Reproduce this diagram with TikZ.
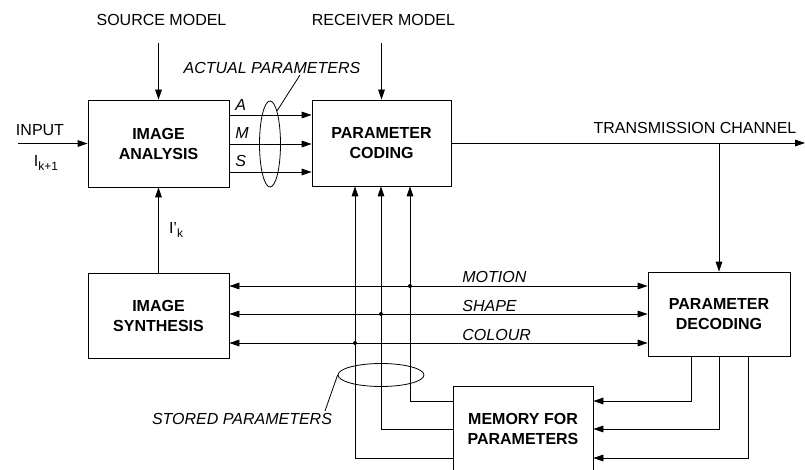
\documentclass[tikz,border=0pt]{standalone}
\usepackage{fontspec}
\setmainfont{Liberation Sans}
\usetikzlibrary{arrows.meta,shapes.geometric}
\begin{document}
\begin{tikzpicture}[x=0.75pt,y=-0.75pt,
  line width=0.6pt,
  box/.style={draw, align=center, inner sep=0pt, font=\fontsize{12}{15}\selectfont\bfseries},
  lbl/.style={inner sep=0pt, font=\fontsize{12}{14}\selectfont},
  ilbl/.style={inner sep=0pt, font=\fontsize{12}{14}\selectfont\itshape},
  arr/.style={-{Triangle[length=7.5pt,width=5pt]}},
  darr/.style={{Triangle[length=7.5pt,width=5pt]}-{Triangle[length=7.5pt,width=5pt]}},
  dotmark/.style={circle, fill, inner sep=0pt, minimum size=3pt}]
\useasboundingbox (0,0) rectangle (805,470);

% boxes
\node[box, minimum width=105.75pt, minimum height=65.25pt] (ana) at (158.5,143.5) {IMAGE\\ANALYSIS};
\node[box, minimum width=104.25pt, minimum height=64.5pt] (cod) at (381.5,143) {PARAMETER\\CODING};
\node[box, minimum width=105.75pt, minimum height=63.75pt] (syn) at (158.5,315.5) {IMAGE\\SYNTHESIS};
\node[box, minimum width=106.5pt, minimum height=63pt] (dec) at (719,314) {PARAMETER\\DECODING};
\node[box, minimum width=105pt, minimum height=64.5pt] (mem) at (523,429) {MEMORY FOR\\PARAMETERS};

% labels
\node[lbl] (src) at (161.5,20) {SOURCE MODEL};
\node[lbl] (rcv) at (383.5,20) {RECEIVER MODEL};
\node[lbl] (inp) at (40,130) {INPUT};
\node[lbl] (ik1) at (46,163) {I\raisebox{-0.45ex}{\fontsize{9}{9}\selectfont k+1}};
\node[lbl] (ikp) at (176,230) {I'\raisebox{-0.45ex}{\fontsize{9}{9}\selectfont k}};
\node[lbl] (trc) at (695,128) {TRANSMISSION CHANNEL};
\node[ilbl] (act) at (272,68) {ACTUAL PARAMETERS};
\node[ilbl, anchor=west] (la) at (235,105) {A};
\node[ilbl, anchor=west] (lm) at (235,133) {M};
\node[ilbl, anchor=west] (ls) at (235,161) {S};
\node[ilbl, anchor=west] (lmo) at (462,277) {MOTION};
\node[ilbl, anchor=west] (lsh) at (462,306) {SHAPE};
\node[ilbl, anchor=west] (lco) at (462,335) {COLOUR};
\node[ilbl] (sto) at (242,419) {STORED PARAMETERS};

% ellipses
\node[ellipse, draw, minimum width=15.75pt, minimum height=64.5pt, inner sep=0pt] (ea) at (270,144) {};
\node[ellipse, draw, minimum width=64.5pt, minimum height=17.25pt, inner sep=0pt] (es) at (381,375) {};
\coordinate (actp) at (300,75);
\draw (ea.78) -- (actp);
\coordinate (stop) at (325,411);
\draw (es.west) -- (stop);

% top arrows
\coordinate (srcS) at (158.5,43);
\draw[arr] (srcS) -- (ana.north);
\coordinate (rcvS) at (381.5,43);
\draw[arr] (rcvS) -- (cod.north);
\coordinate (inS) at (18,143.5);
\draw[arr] (inS) -- (ana.west);
\foreach \yy in {115,144,172} \draw[arr] (ana.east |- 0,\yy) -- (cod.west |- 0,\yy);
\coordinate (txE) at (805,143);
\draw[arr] (cod.east) -- (txE);
\coordinate (tap) at (719,143);
\draw[arr] (tap) -- (dec.north);
\draw[arr] (syn.north) -- (ana.south);

% decoded parameters
\foreach \yy in {286,314,343} \draw[darr] (syn.east |- 0,\yy) -- (dec.west |- 0,\yy);

% memory to coding
\draw[arr] (mem.west |- 0,401) -| (410,0 |- cod.south);
\draw[arr] (mem.west |- 0,429) -| (381,0 |- cod.south);
\draw[arr] (mem.west |- 0,458) -| (355,0 |- cod.south);

% decoding to memory
\draw[arr] (691,0 |- dec.south) |- (mem.east |- 0,401);
\draw[arr] (719,0 |- dec.south) |- (mem.east |- 0,429);
\draw[arr] (748,0 |- dec.south) |- (mem.east |- 0,458);

% junction dots
\node[dotmark] (d1) at (410,286) {};
\node[dotmark] (d2) at (381,314) {};
\node[dotmark] (d3) at (355,343) {};
\end{tikzpicture}
\end{document}
